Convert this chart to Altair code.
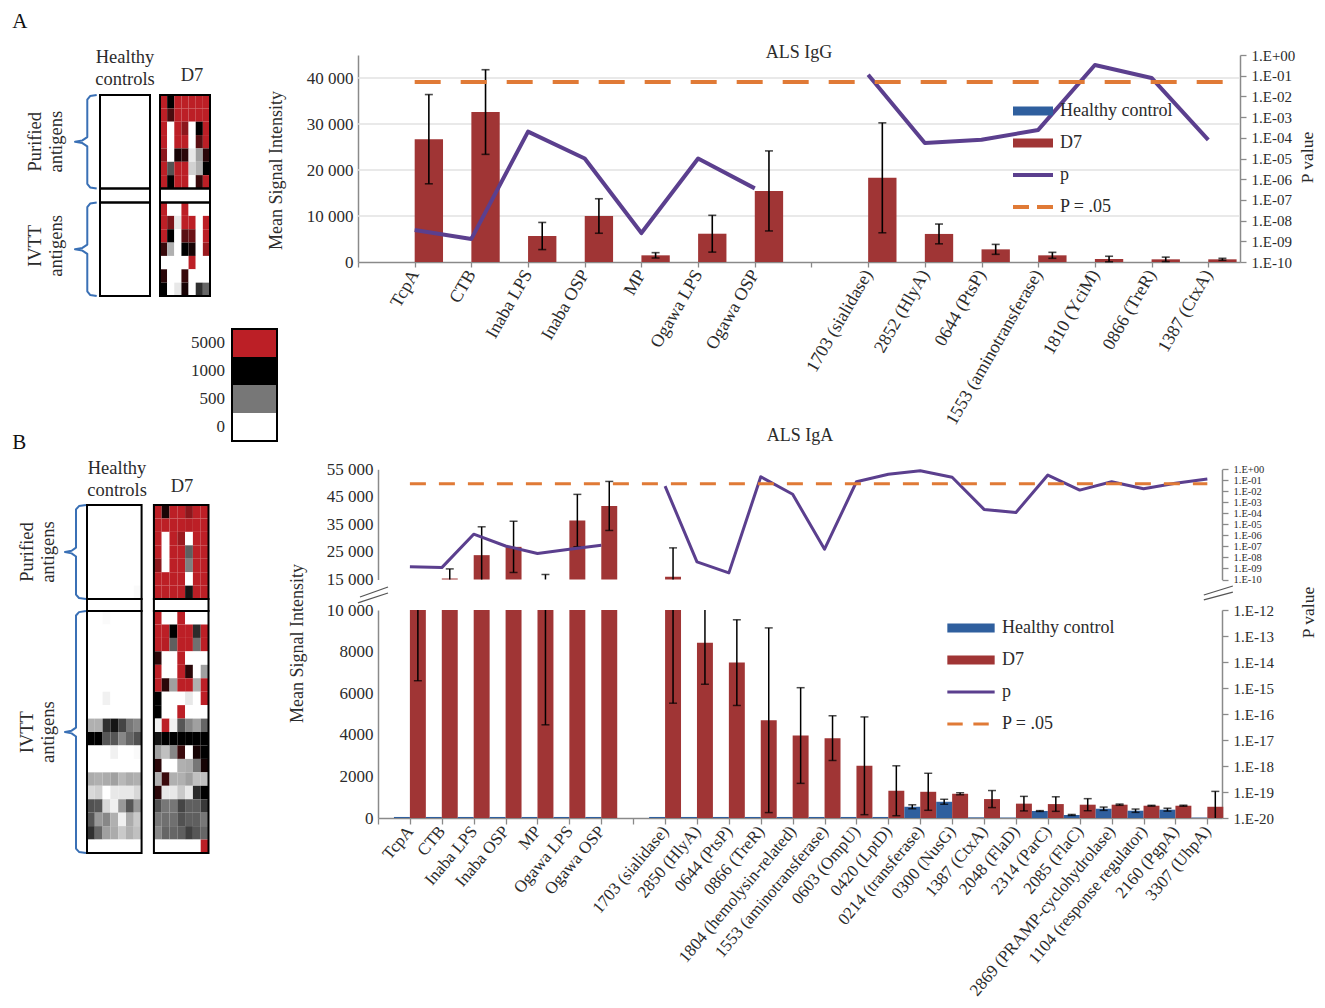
import json
import altair as alt
import pandas as pd

FONT = "Liberation Serif"
W, H = 1309, 992
TXT = "#2b2b2b"
AXC = "#8a8a8a"
RED = "#A03535"
BLUE = "#2F5F9E"
PURPLE = "#5B3F8E"
ORANGE = "#E07A36"
BRACE = "#3A70B5"

# ---------------- Panel A : ALS IgG ----------------
cats_a = ["", "TcpA", "CTB", "Inaba LPS", "Inaba OSP", "MP", "Ogawa LPS", "Ogawa OSP", "",
          "1703 (sialidase)", "2852 (HlyA)", "0644 (PtsP)", "1553 (aminotransferase)",
          "1810 (YciM)", "0866 (TreR)", "1387 (CtxA)"]
d7_a = [None, 26700, 32600, 5650, 10000, 1450, 6150, 15450, None, 18300, 6100, 2750, 1450, 650, 580, 580]
d7_err_a = [None, 9700, 9200, 2950, 3750, 580, 4000, 8700, None, 11950, 2150, 1080, 650, 600, 480, 220]
hc_a = [None, 0, 0, 0, 0, 0, 0, 0, None, 0, 0, 0, 0, 0, 0, 0]
hc_err_a = [None, 0, 0, 0, 0, 0, 0, 0, None, 0, 0, 0, 0, 0, 0, 0]
p_a = [None, 3.5e-9, 1.3e-9, 2.0e-4, 1.0e-5, 2.5e-9, 1.0e-5, 3.6e-7, None,
       1.1e-1, 5.6e-5, 8.0e-5, 2.4e-4, 3.3e-1, 7.8e-2, 7.9e-5]

# ---------------- Panel B : ALS IgA ----------------
cats_b = ["", "TcpA", "CTB", "Inaba LPS", "Inaba OSP", "MP", "Ogawa LPS", "Ogawa OSP", "",
          "1703 (sialidase)", "2850 (HlyA)", "0644 (PtsP)", "0866 (TreR)", "1804 (hemolysin-related)",
          "1553 (aminotransferase)", "0603 (OmpU)", "0420 (LptD)", "0214 (transferase)", "0300 (NusG)",
          "1387 (CtxA)", "2048 (FlaD)", "2314 (ParC)", "2085 (FlaC)", "2869 (PRAMP-cyclohydrolase)",
          "1104 (response regulator)", "2160 (PgpA)", "3307 (UhpA)"]
d7_b = [None, 10500, 15360, 23840, 26850, 10650, 36400, 41700, None, 16000, 8430, 7470, 4700, 3965,
        3840, 2510, 1310, 1260, 1165, 910, 690, 670, 640, 640, 590, 590, 540]
d7_err_b = [None, 3900, 3490, 10290, 9300, 6170, 9500, 8900, None, 10480, 2000, 2060, 4440, 2300,
            1075, 2350, 1200, 890, 50, 410, 350, 350, 290, 30, 20, 25, 740]
hc_b = [None, 50, 50, 50, 50, 50, 50, 50, None, 50, 50, 50, 50, 50, 50, 50, 50, 540, 780, 30, 20,
        335, 145, 445, 350, 400, 20]
hc_err_b = [None, 0, 0, 0, 0, 0, 0, 0, None, 0, 0, 0, 0, 0, 0, 0, 0, 95, 120, 0, 0, 20, 25, 80, 80, 70, 0]
p_b = [None, 1.4e-9, 1.2e-9, 1.3e-6, 1.1e-7, 2.3e-8, 5.6e-8, 1.3e-7, None, 3.0e-2, 4.0e-9, 4.0e-10,
       2.1e-1, 5.4e-3, 5.6e-8, 7.4e-2, 3.5e-1, 7.4e-1, 1.9e-1, 2.3e-4, 1.2e-4, 3.0e-1, 1.3e-2,
       7.4e-2, 1.7e-2, 5.4e-2, 1.3e-1]

# ---------------- Heatmaps (signal per subject) ----------------
heat_a_hc_pur = [[0] * 7 for _ in range(7)]
heat_a_hc_ivtt = [[0] * 7 for _ in range(7)]
heat_a_d7_pur = [
    [5000, 1000, 5000, 5000, 5000, 5000, 5000],
    [5000, 2600, 5000, 5000, 5000, 5000, 5000],
    [5000, 0, 5000, 4000, 0, 1000, 5000],
    [5000, 0, 5000, 5000, 0, 2900, 5000],
    [4000, 0, 1500, 1900, 85, 350, 1900],
    [5000, 650, 5000, 5000, 170, 290, 1000],
    [5000, 1000, 5000, 5000, 0, 2200, 5000],
]
heat_a_d7_ivtt = [
    [5000, 0, 0, 5000, 0, 0, 0],
    [5000, 3600, 85, 5000, 5000, 0, 5000],
    [5000, 1000, 0, 2900, 3300, 0, 5000],
    [2200, 290, 0, 1000, 1500, 0, 4300],
    [0, 0, 0, 0, 5000, 0, 0],
    [1900, 0, 0, 2200, 0, 0, 0],
    [1000, 0, 85, 1500, 0, 800, 570],
]
heat_b_hc_pur = [[0] * 7 for _ in range(6)] + [[0, 0, 0, 0, 0, 0, 20]]
heat_b_hc_ivtt = [
    [0, 0, 20, 0, 0, 0, 0],
    [0, 0, 0, 0, 0, 0, 0],
    [0, 0, 0, 0, 0, 0, 0],
    [0, 0, 0, 0, 0, 0, 0],
    [0, 0, 0, 0, 0, 0, 0],
    [0, 0, 0, 0, 0, 0, 0],
    [0, 0, 50, 0, 0, 0, 0],
    [0, 0, 0, 0, 0, 0, 0],
    [290, 290, 800, 910, 710, 500, 440],
    [1000, 1000, 640, 640, 440, 570, 660],
    [0, 0, 0, 50, 0, 0, 20],
    [0, 0, 0, 0, 0, 0, 0],
    [310, 290, 310, 350, 260, 310, 290],
    [143, 173, 0, 85, 85, 85, 143],
    [660, 640, 143, 55, 375, 640, 375],
    [640, 375, 440, 290, 55, 310, 200],
    [800, 570, 350, 310, 200, 290, 230],
    [0, 0, 0, 0, 0, 0, 0],
]
heat_b_d7_pur = [
    [5000, 1550, 5000, 5000, 3950, 5000, 5000],
    [5000, 5000, 5000, 5000, 4900, 5000, 5000],
    [5000, 0, 5000, 4300, 0, 5000, 5000],
    [5000, 0, 5000, 5000, 600, 5000, 5000],
    [3950, 0, 5000, 5000, 470, 5000, 5000],
    [5000, 5000, 5000, 5000, 0, 5000, 5000],
    [5000, 5000, 5000, 5000, 910, 5000, 5000],
]
heat_b_d7_ivtt = [
    [5000, 0, 0, 5000, 0, 0, 0],
    [5000, 5000, 1000, 5000, 5000, 820, 5000],
    [5000, 4900, 600, 5000, 5000, 530, 5000],
    [1900, 0, 0, 5000, 0, 0, 0],
    [5000, 0, 0, 5000, 1900, 0, 350],
    [5000, 1900, 350, 5000, 5000, 290, 5000],
    [1000, 0, 0, 0, 85, 0, 5000],
    [1000, 0, 0, 5000, 0, 0, 0],
    [55, 5000, 55, 640, 440, 350, 570],
    [910, 1000, 1000, 1000, 1000, 1000, 1000],
    [350, 230, 440, 2240, 0, 1450, 1000],
    [1900, 0, 0, 290, 310, 500, 1450],
    [290, 2240, 290, 290, 350, 230, 230],
    [1900, 85, 85, 200, 85, 820, 1000],
    [660, 500, 500, 710, 600, 600, 760],
    [500, 530, 530, 660, 600, 600, 500],
    [440, 570, 570, 600, 730, 640, 570],
    [0, 0, 0, 0, 0, 0, 5000],
]
heat_legend_values = [5000, 1000, 500, 0]
heat_legend_labels = ["5000", "1000", "500", "0"]

legend_names = ["Healthy control", "D7", "p", "P = .05"]

HEAT = alt.Scale(type="linear", domain=[0, 500, 1000, 5000],
                 range=["#ffffff", "#777777", "#000000", "#BC1F26"], clamp=True, interpolate="rgb")

LEFT_EXPR = "datum.value >= 10000 ? replace(format(datum.value, ',d'), ',', ' ') : format(datum.value, 'd')"
P_EXPR = ("'1.E' + (datum.value >= 0.99 ? '+00' : '-' + (round(-log(datum.value)/LN10) < 10 ? '0' : '')"
          " + round(-log(datum.value)/LN10))")


def lin(dom, rng):
    return alt.Scale(domain=dom, range=rng, nice=False, zero=False)


def heat_panel(hc_pur, hc_ivt, d7_pur, d7_ivt, gap, sep, xr, yr, brace, texts):
    n_iv = len(d7_ivt)
    xs = lin([0, 14 + gap], xr)
    ys = lin([0, 7 + sep + n_iv], yr)
    cells, boxes = [], []
    for g, (pur, ivt) in enumerate([(hc_pur, hc_ivt), (d7_pur, d7_ivt)]):
        xo = 0 if g == 0 else 7 + gap
        for r, row in enumerate(pur):
            for c, v in enumerate(row):
                cells.append({"x0": xo + c, "x1": xo + c + 1, "y0": r, "y1": r + 1, "v": v})
        for r, row in enumerate(ivt):
            for c, v in enumerate(row):
                cells.append({"x0": xo + c, "x1": xo + c + 1, "y0": 7 + sep + r, "y1": 8 + sep + r, "v": v})
        for (a, b) in [(0, 7), (7, 7 + sep), (7 + sep, 7 + sep + n_iv)]:
            boxes.append({"x0": xo, "x1": xo + 7, "y0": a, "y1": b})
    cells = pd.DataFrame(cells)
    boxes = pd.DataFrame(boxes)
    v, hook, tip, cc = brace
    bp = []
    for sid, (t, b) in enumerate([(0, 7), (7 + sep, 7 + sep + n_iv)]):
        m = (t + b) / 2
        pts = [(hook, t), (v + 0.3 * (hook - v), t + 0.08), (v, t + cc), (v, m - cc),
               (v - 0.4 * (v - tip), m - 0.1), (tip, m), (v - 0.4 * (v - tip), m + 0.1),
               (v, m + cc), (v, b - cc), (v + 0.3 * (hook - v), b - 0.08), (hook, b)]
        for k, (px, py) in enumerate(pts):
            bp.append({"s": sid, "k": k, "x": px, "y": py})
    bp = pd.DataFrame(bp)

    lay = []
    lay.append(alt.Chart(cells).mark_rect().encode(
        x=alt.X("x0:Q", scale=xs, axis=None), x2="x1:Q",
        y=alt.Y("y0:Q", scale=ys, axis=None), y2="y1:Q",
        color=alt.Color("v:Q", scale=HEAT, legend=None)))
    lay.append(alt.Chart(boxes).mark_rect(fillOpacity=0, stroke="black", strokeWidth=2).encode(
        x=alt.X("x0:Q", scale=xs, axis=None), x2="x1:Q",
        y=alt.Y("y0:Q", scale=ys, axis=None), y2="y1:Q"))
    lay.append(alt.Chart(bp).mark_line(color=BRACE, strokeWidth=2, strokeJoin="round").encode(
        x=alt.X("x:Q", scale=xs, axis=None), y=alt.Y("y:Q", scale=ys, axis=None),
        detail="s:N", order="k:Q"))
    letter, headers, sides = texts
    lay.append(alt.Chart(pd.DataFrame([letter])).mark_text(
        font=FONT, fontSize=21, align="left", baseline="middle", color="#111").encode(
        x=alt.X("x:Q", scale=xs, axis=None), y=alt.Y("y:Q", scale=ys, axis=None), text="t:N"))
    lay.append(alt.Chart(pd.DataFrame(headers)).mark_text(
        font=FONT, fontSize=18.5, align="center", baseline="middle", lineBreak="\n",
        lineHeight=22, color=TXT).encode(
        x=alt.X("x:Q", scale=xs, axis=None), y=alt.Y("y:Q", scale=ys, axis=None), text="t:N"))
    lay.append(alt.Chart(pd.DataFrame(sides)).mark_text(
        font=FONT, fontSize=18.5, align="center", baseline="middle", lineBreak="\n",
        lineHeight=21, angle=270, color=TXT).encode(
        x=alt.X("x:Q", scale=xs, axis=None), y=alt.Y("y:Q", scale=ys, axis=None), text="t:N"))
    return lay


def bar_frame(hc, hc_err, d7, d7_err):
    rows = []
    for i, v in enumerate(d7):
        if v is None:
            continue
        rows.append({"idx": i, "series": "Healthy control", "x0": i - 0.5, "x1": i, "xc": i - 0.25,
                     "val": hc[i], "err": hc_err[i]})
        rows.append({"idx": i, "series": "D7", "x0": i, "x1": i + 0.5, "xc": i + 0.25,
                     "val": v, "err": d7_err[i]})
    df = pd.DataFrame(rows)
    df["lo"] = (df["val"] - df["err"]).clip(lower=0)
    df["hi"] = df["val"] + df["err"]
    return df


def p_frame(p):
    return pd.DataFrame([{"idx": i, "p": v, "seg": 0 if i < 8 else 1} for i, v in enumerate(p) if v is not None])


def legend_layer(colors, shapes, size, lx, ly):
    leg = alt.Legend(orient="none", legendX=lx, legendY=ly, title=None, symbolSize=size, clipHeight=22,
                     rowPadding=10, labelFont=FONT, labelFontSize=18, labelColor=TXT, labelOffset=7,
                     symbolStrokeWidth=0, symbolOpacity=1, padding=0, direction="vertical")
    df = pd.DataFrame({"series": legend_names})
    return alt.Chart(df).mark_point(filled=True, opacity=1).encode(
        color=alt.Color("series:N", scale=alt.Scale(domain=legend_names, range=colors), legend=leg),
        shape=alt.Shape("series:N", scale=alt.Scale(domain=legend_names, range=shapes), legend=leg),
    ).transform_filter("false")


def x_axis(cats, offset, angle, tick, size):
    return alt.Axis(orient="bottom", offset=offset, values=list(range(len(cats))),
                    labelExpr=json.dumps(cats) + "[datum.value]", labelAngle=angle, labelAlign="right",
                    labelBaseline="middle", labelFont=FONT, labelFontSize=size, labelColor=TXT,
                    labelPadding=4, labelOverlap=False, labelFlush=False, labelLimit=500, tickSize=tick,
                    tickColor=AXC, tickWidth=1.3, domainColor=AXC, domainWidth=1.5, grid=False, title=None)


def left_axis(values, offset, size, title=None, tx=0, ty=0):
    kw = dict(orient="left", offset=offset, values=values, labelExpr=LEFT_EXPR, labelFont=FONT,
              labelFontSize=size, labelColor=TXT, labelPadding=5, ticks=False, tickSize=0,
              labelOverlap=False, domainColor=AXC, domainWidth=1.5, grid=False)
    if title:
        kw.update(title=title, titleFont=FONT, titleFontSize=18, titleFontWeight="normal", titleColor=TXT,
                  titleAngle=270, titleX=tx, titleY=ty, titleAlign="center", titleBaseline="middle")
    else:
        kw.update(title=None)
    return alt.Axis(**kw)


def right_axis(values, offset, size, title=None, tx=0, ty=0):
    kw = dict(orient="right", offset=offset, values=values, labelExpr=P_EXPR, labelFont=FONT,
              labelFontSize=size, labelColor=TXT, labelPadding=5, tickSize=6, tickColor=AXC, tickWidth=1.3,
              labelOverlap=False, labelFlush=False, domainColor=AXC, domainWidth=1.5, grid=False)
    if title:
        kw.update(title=title, titleFont=FONT, titleFontSize=17.5, titleFontWeight="normal", titleColor=TXT,
                  titleAngle=270, titleX=tx, titleY=ty, titleAlign="center", titleBaseline="middle")
    else:
        kw.update(title=None)
    return alt.Axis(**kw)


layers = []

# ---- heatmap A ----
layers += heat_panel(heat_a_hc_pur, heat_a_hc_ivtt, heat_a_d7_pur, heat_a_d7_ivtt, 1.4, 1.05,
                     [92, 202], [87, 288], (-1.78, -0.46, -3.5, 0.35),
                     ({"t": "A", "x": -12.3, "y": -5.5},
                      [{"t": "Healthy\ncontrols", "x": 3.5, "y": -2.84}, {"t": "D7", "x": 12.88, "y": -1.5}],
                      [{"t": "Purified\nantigens", "x": -9.05, "y": 3.5}, {"t": "IVTT\nantigens", "x": -9.05, "y": 11.3}]))

# ---- heat colour legend ----
LXS = lin([0, 1], [224, 269])
LYS = lin([0, 4], [321, 433])
hl = pd.DataFrame({"k": range(4), "v": heat_legend_values, "t": heat_legend_labels})
hl["x0"], hl["x1"], hl["y0"], hl["y1"], hl["ym"] = 0, 1, hl["k"], hl["k"] + 1, hl["k"] + 0.5
layers.append(alt.Chart(hl).mark_rect().encode(
    x=alt.X("x0:Q", scale=LXS, axis=None), x2="x1:Q", y=alt.Y("y0:Q", scale=LYS, axis=None), y2="y1:Q",
    color=alt.Color("v:Q", scale=HEAT, legend=None)))
layers.append(alt.Chart(pd.DataFrame([{"x0": 0, "x1": 1, "y0": 0, "y1": 4}])).mark_rect(
    fillOpacity=0, stroke="black", strokeWidth=2).encode(
    x=alt.X("x0:Q", scale=LXS, axis=None), x2="x1:Q", y=alt.Y("y0:Q", scale=LYS, axis=None), y2="y1:Q"))
layers.append(alt.Chart(hl).mark_text(font=FONT, fontSize=17, align="right", baseline="middle", dx=-7,
                                      color=TXT).encode(
    x=alt.X("x0:Q", scale=LXS, axis=None), y=alt.Y("ym:Q", scale=LYS, axis=None), text="t:N"))

# ---- heatmap B ----
layers += heat_panel(heat_b_hc_pur, heat_b_hc_ivtt, heat_b_d7_pur, heat_b_d7_ivtt, 1.58, 0.89,
                     [79, 200.5], [497, 845], (-1.41, -0.13, -2.82, 0.33),
                     ({"t": "B", "x": -9.6, "y": -4.6},
                      [{"t": "Healthy\ncontrols", "x": 3.85, "y": -2.75}, {"t": "D7", "x": 12.18, "y": -1.41}],
                      [{"t": "Purified\nantigens", "x": -7.75, "y": 3.5}, {"t": "IVTT\nantigens", "x": -7.75, "y": 16.9}]))

# ---------------- Panel A chart ----------------
XA_MAX = 15.56
XA = lin([0, XA_MAX], [350, 1232])
YA = lin([0, 45000], [254, 47])
PA = alt.Scale(type="log", domain=[1e-10, 1], range=[254, 47], nice=False)
PVALS_A = [10.0 ** -k for k in range(11)]

dfa = bar_frame(hc_a, hc_err_a, d7_a, d7_err_a)
dfa["base"] = 0
grid_a = pd.DataFrame({"y": [10000, 20000, 30000, 40000]})
grid_a["x0"], grid_a["x1"] = 0, XA_MAX
layers.append(alt.Chart(grid_a).mark_rule(color="#e2e2e2", strokeWidth=1.5).encode(
    x=alt.X("x0:Q", scale=XA, axis=None), x2="x1:Q", y=alt.Y("y:Q", scale=YA, axis=None)))
layers.append(alt.Chart(dfa).mark_rect().encode(
    x=alt.X("x0:Q", scale=XA, axis=x_axis(cats_a, 254 - H, 300, 5, 18)), x2="x1:Q",
    y=alt.Y("val:Q", scale=YA, axis=left_axis([0, 10000, 20000, 30000, 40000], -350, 17,
                                              "Mean Signal Intensity", -82, 162)), y2="base:Q",
    color=alt.Color("series:N", scale=alt.Scale(domain=["Healthy control", "D7"], range=[BLUE, RED]), legend=None)))
erra = dfa[dfa["err"] > 0]
layers.append(alt.Chart(erra).mark_rule(color="black", strokeWidth=1.6).encode(
    x=alt.X("xc:Q", scale=XA, axis=None), y=alt.Y("lo:Q", scale=YA, axis=None), y2="hi:Q"))
capsa = pd.concat([erra[["xc"]].assign(y=erra["lo"]), erra[["xc"]].assign(y=erra["hi"])])
layers.append(alt.Chart(capsa).mark_tick(orient="horizontal", size=8, thickness=1.6, color="black").encode(
    x=alt.X("xc:Q", scale=XA, axis=None), y=alt.Y("y:Q", scale=YA, axis=None)))
layers.append(alt.Chart(p_frame(p_a)).mark_line(color=PURPLE, strokeWidth=4, strokeJoin="round").encode(
    x=alt.X("idx:Q", scale=XA, axis=None),
    y=alt.Y("p:Q", scale=PA, axis=right_axis(PVALS_A, 1232 - W, 15, "P value", 67, 149)),
    detail="seg:N", order="idx:Q"))
layers.append(alt.Chart(pd.DataFrame([{"x0": 1, "x1": 15.45, "p": 0.05}])).mark_rule(
    color=ORANGE, strokeWidth=4, strokeDash=[26, 20]).encode(
    x=alt.X("x0:Q", scale=XA, axis=None), x2="x1:Q", y=alt.Y("p:Q", scale=PA, axis=None)))
layers.append(alt.Chart(pd.DataFrame([{"t": "ALS IgG", "x": XA_MAX / 2, "y": 45400}])).mark_text(
    font=FONT, fontSize=18, align="center", baseline="middle", color=TXT).encode(
    x=alt.X("x:Q", scale=XA, axis=None), y=alt.Y("y:Q", scale=YA, axis=None), text="t:N"))
layers.append(legend_layer(
    [BLUE, RED, PURPLE, ORANGE],
    ["M-1,-0.22L1,-0.22L1,0.22L-1,0.22Z", "M-1,-0.22L1,-0.22L1,0.22L-1,0.22Z",
     "M-1,-0.1L1,-0.1L1,0.1L-1,0.1Z",
     "M-1,-0.1L-0.2,-0.1L-0.2,0.1L-1,0.1Z M0.2,-0.1L1,-0.1L1,0.1L0.2,0.1Z"],
    1600, 1005, 92))

# ---------------- Panel B chart ----------------
XB_MAX = 26.46
XB = lin([0, XB_MAX], [370, 1214])
YBT = lin([15000, 55000], [571.5, 461.3])
PBT = alt.Scale(type="log", domain=[1e-10, 1], range=[571.5, 461.3], nice=False)
YBB = lin([0, 10000], [810, 602])
PBB = alt.Scale(type="log", domain=[1e-20, 1e-12], range=[810, 602], nice=False)
CUT_LO, CUT_HI = 10000, 15000

dfb = bar_frame(hc_b, hc_err_b, d7_b, d7_err_b)
bot = dfb.copy()
bot["vb"] = bot["val"].clip(upper=CUT_LO)
bot["base"] = 0
top = dfb[dfb["val"] > CUT_HI].copy()
top["base"] = CUT_HI

layers.append(alt.Chart(bot).mark_rect().encode(
    x=alt.X("x0:Q", scale=XB, axis=x_axis(cats_b, 810 - H, 310, 6, 17)), x2="x1:Q",
    y=alt.Y("vb:Q", scale=YBB, axis=left_axis([0, 2000, 4000, 6000, 8000, 10000], -370, 17,
                                              "Mean Signal Intensity", -81, 635)), y2="base:Q",
    color=alt.Color("series:N", scale=alt.Scale(domain=["Healthy control", "D7"], range=[BLUE, RED]), legend=None)))
layers.append(alt.Chart(top).mark_rect().encode(
    x=alt.X("x0:Q", scale=XB, axis=None), x2="x1:Q",
    y=alt.Y("val:Q", scale=YBT, axis=left_axis([15000, 25000, 35000, 45000, 55000], -370, 17)), y2="base:Q",
    color=alt.Color("series:N", scale=alt.Scale(domain=["Healthy control", "D7"], range=[BLUE, RED]), legend=None)))

eb = dfb[(dfb["err"] > 0) & (dfb["lo"] < CUT_LO)].copy()
eb["yhi"] = eb["hi"].clip(upper=CUT_LO)
layers.append(alt.Chart(eb).mark_rule(color="black", strokeWidth=1.5).encode(
    x=alt.X("xc:Q", scale=XB, axis=None), y=alt.Y("lo:Q", scale=YBB, axis=None), y2="yhi:Q"))
cb = pd.concat([eb[eb["lo"] > 0][["xc"]].assign(y=eb["lo"]), eb[eb["hi"] <= CUT_LO][["xc"]].assign(y=eb["hi"])]).dropna()
layers.append(alt.Chart(cb).mark_tick(orient="horizontal", size=8, thickness=1.5, color="black").encode(
    x=alt.X("xc:Q", scale=XB, axis=None), y=alt.Y("y:Q", scale=YBB, axis=None)))

et = dfb[(dfb["err"] > 0) & (dfb["hi"] > CUT_HI)].copy()
et["ylo"] = et["lo"].clip(lower=CUT_HI)
layers.append(alt.Chart(et).mark_rule(color="black", strokeWidth=1.5).encode(
    x=alt.X("xc:Q", scale=XB, axis=None), y=alt.Y("ylo:Q", scale=YBT, axis=None), y2="hi:Q"))
ct = pd.concat([et[["xc"]].assign(y=et["hi"]), et[et["lo"] >= CUT_HI][["xc"]].assign(y=et["lo"])]).dropna()
layers.append(alt.Chart(ct).mark_tick(orient="horizontal", size=8, thickness=1.5, color="black").encode(
    x=alt.X("xc:Q", scale=XB, axis=None), y=alt.Y("y:Q", scale=YBT, axis=None)))

layers.append(alt.Chart(p_frame(p_b)).mark_line(color=PURPLE, strokeWidth=3, strokeJoin="round").encode(
    x=alt.X("idx:Q", scale=XB, axis=None),
    y=alt.Y("p:Q", scale=PBT, axis=right_axis([10.0 ** -k for k in range(11)], 1214 - W, 10.5)),
    detail="seg:N", order="idx:Q"))
layers.append(alt.Chart(pd.DataFrame([{"x0": 1, "x1": 26, "p": 0.05}])).mark_rule(
    color=ORANGE, strokeWidth=3, strokeDash=[16, 13]).encode(
    x=alt.X("x0:Q", scale=XB, axis=None), x2="x1:Q", y=alt.Y("p:Q", scale=PBT, axis=None)))
layers.append(alt.Chart(pd.DataFrame({"p": [1e-16]})).mark_point(opacity=0).encode(
    y=alt.Y("p:Q", scale=PBB, axis=right_axis([10.0 ** -k for k in range(12, 21)], 1214 - W, 15,
                                              "P value", 86, 604))).transform_filter("false"))
layers.append(alt.Chart(pd.DataFrame([{"t": "ALS IgA", "x": XB_MAX / 2, "y": 67100}])).mark_text(
    font=FONT, fontSize=18, align="center", baseline="middle", color=TXT).encode(
    x=alt.X("x:Q", scale=XB, axis=None), y=alt.Y("y:Q", scale=YBT, axis=None), text="t:N"))
layers.append(legend_layer(
    [BLUE, RED, PURPLE, ORANGE],
    ["M-1,-0.19L1,-0.19L1,0.19L-1,0.19Z", "M-1,-0.19L1,-0.19L1,0.19L-1,0.19Z",
     "M-1,-0.065L1,-0.065L1,0.065L-1,0.065Z",
     "M-1,-0.065L-0.35,-0.065L-0.35,0.065L-1,0.065Z M0.1,-0.065L0.75,-0.065L0.75,0.065L0.1,0.065Z"],
    2240, 939, 609))

# axis-break marks (//) between the two value ranges
brk = pd.DataFrame([
    {"x0": -0.565, "x1": 0.314, "y0": 10625, "y1": 11106},
    {"x0": -0.63, "x1": 0.314, "y0": 10337, "y1": 10817},
    {"x0": 25.89, "x1": 26.8, "y0": 10721, "y1": 11154},
    {"x0": 25.89, "x1": 26.8, "y0": 10481, "y1": 10865},
])
layers.append(alt.Chart(brk).mark_rule(color="#555555", strokeWidth=1.3).encode(
    x=alt.X("x0:Q", scale=XB, axis=None), x2="x1:Q", y=alt.Y("y0:Q", scale=YBB, axis=None), y2="y1:Q"))

chart = alt.layer(*layers).resolve_scale(
    x="independent", y="independent", color="independent", shape="independent"
).properties(
    width=W, height=H, autosize=alt.AutoSizeParams(type="none"), padding=0, background="white"
).configure_view(stroke=None)

chart.save("out.html", embed_options={"renderer": "svg", "actions": False})
